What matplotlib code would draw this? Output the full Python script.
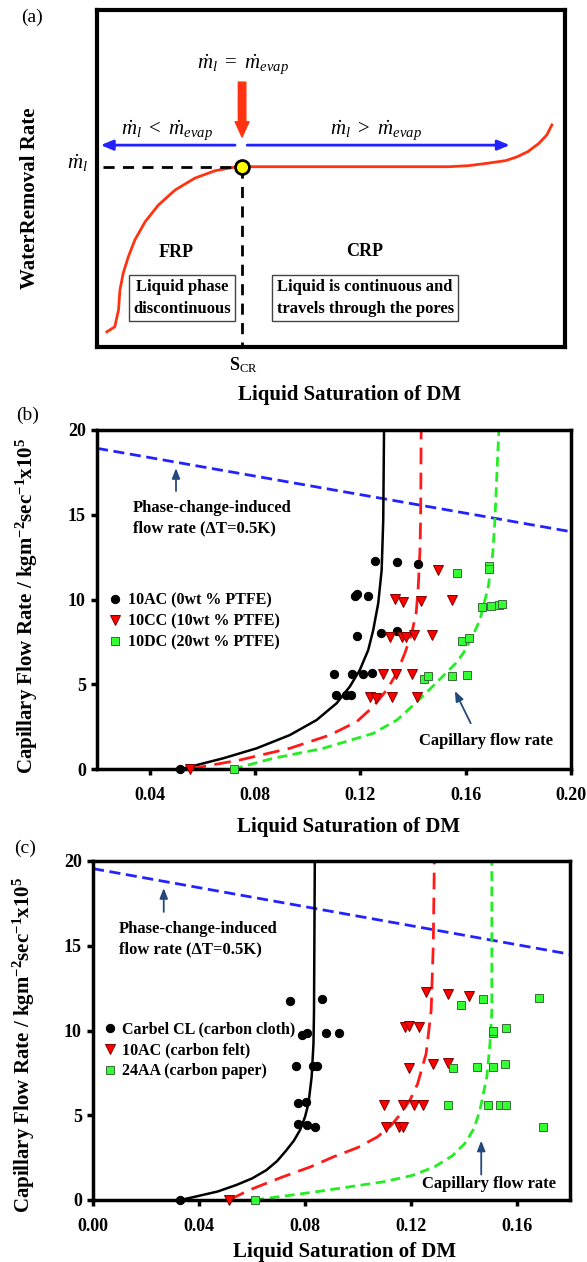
import matplotlib
matplotlib.use('Agg')
import matplotlib.pyplot as plt
from matplotlib.lines import Line2D

plt.rcParams['font.family'] = ['Liberation Serif', 'DejaVu Serif']
plt.rcParams['mathtext.fontset'] = 'custom'
plt.rcParams['mathtext.rm'] = 'Liberation Serif'
plt.rcParams['mathtext.it'] = 'Liberation Serif:italic'
plt.rcParams['mathtext.bf'] = 'Liberation Serif:bold'

W, H = 587, 1262

# ---------------- panel (a): schematic (normalised 0-1 coordinates)
drying_x = [0.021, 0.038, 0.046, 0.049, 0.056, 0.067, 0.081, 0.103, 0.131, 0.167, 0.209,
            0.252, 0.291, 0.310, 0.752, 0.793, 0.833, 0.873, 0.897, 0.921, 0.944, 0.961, 0.972]
drying_y = [0.045, 0.060, 0.110, 0.169, 0.219, 0.268, 0.318, 0.372, 0.421, 0.466, 0.501,
            0.523, 0.533, 0.535, 0.535, 0.538, 0.545, 0.553, 0.564, 0.580, 0.604, 0.629, 0.659]
crit_x = 0.310
crit_y = 0.535

# ---------------- panel (b): PTFE loading
sat_b_xlim = (0.02, 0.20)
b_ticks = [0.04, 0.08, 0.12, 0.16, 0.20]
ac_x = [0.0514, 0.1255, 0.1338, 0.142, 0.1179, 0.1189, 0.123, 0.1189, 0.128, 0.1338,
        0.110, 0.117, 0.1211, 0.1246, 0.1107, 0.1147, 0.1166]
ac_y = [0, 12.27, 12.19, 12.09, 10.2, 10.32, 10.2, 7.85, 8.04, 8.14,
        5.58, 5.58, 5.58, 5.64, 4.37, 4.37, 4.37]
cc_x = [0.0554, 0.1494, 0.1331, 0.1363, 0.1429, 0.1547, 0.1312, 0.1359, 0.1372, 0.1403,
        0.1471, 0.1287, 0.1335, 0.1398, 0.1236, 0.1259, 0.1319, 0.1414]
cc_y = [0, 11.74, 10.03, 9.83, 9.93, 9.97, 7.8, 7.77, 7.8, 7.9,
        7.9, 5.6, 5.6, 5.6, 4.23, 4.17, 4.23, 4.23]
dc_x = [0.0721, 0.1566, 0.169, 0.169, 0.1663, 0.1698, 0.1728, 0.1737, 0.1587, 0.1613,
        0.1441, 0.1457, 0.1549, 0.1606]
dc_y = [0, 11.55, 12.0, 11.8, 9.58, 9.62, 9.68, 9.73, 7.57, 7.75,
        5.31, 5.49, 5.49, 5.53]
fit_ac_x = [0.052, 0.0679, 0.0806, 0.0932, 0.1034, 0.111, 0.116, 0.1198, 0.123, 0.1249,
            0.1268, 0.1281, 0.1287, 0.129]
fit_ac_y = [0, 0.63, 1.22, 2.0, 2.89, 3.88, 4.86, 5.84, 7.02, 8.2, 9.78, 11.74, 14.7, 20]
fit_cc_x = [0.0552, 0.0742, 0.0932, 0.1084, 0.1186, 0.1249, 0.13, 0.1338, 0.1369, 0.1395,
            0.1412, 0.142, 0.1426, 0.1429, 0.1431]
fit_cc_y = [0, 0.53, 1.22, 2.0, 2.79, 3.68, 4.66, 5.65, 6.83, 8.0, 9.2, 10.76, 12.73, 14.7, 20]
fit_dc_x = [0.0717, 0.0869, 0.1059, 0.1249, 0.134, 0.1414, 0.147, 0.1515, 0.156, 0.1591,
            0.1625, 0.1654, 0.1686, 0.1703, 0.1711, 0.1726]
fit_dc_y = [0, 0.63, 1.22, 2.1, 2.9, 3.95, 4.8, 5.5, 6.2, 6.83,
            7.8, 8.79, 10.76, 12.73, 14.7, 20]
phase_b_x = [0.02, 0.20]
phase_b_y = [18.92, 14.0]

# ---------------- panel (c): DM type
sat_c_xlim = (0.0, 0.18)
c_ticks = [0.00, 0.04, 0.08, 0.12, 0.16]
cl_x = [0.033, 0.0742, 0.0865, 0.079, 0.0809, 0.0879, 0.093, 0.0766, 0.0832, 0.0845,
        0.0775, 0.0804, 0.0772, 0.0806, 0.0836]
cl_y = [0, 11.73, 11.83, 9.76, 9.84, 9.84, 9.88, 7.88, 7.88, 7.88,
        5.72, 5.78, 4.47, 4.41, 4.31]
felt_x = [0.0513, 0.1255, 0.1338, 0.1418, 0.1178, 0.1194, 0.1232, 0.1194, 0.1283, 0.134,
          0.1098, 0.1168, 0.1213, 0.1247, 0.1107, 0.1153, 0.1168]
felt_y = [0, 12.28, 12.18, 12.05, 10.2, 10.29, 10.2, 7.8, 8.0, 8.1,
          5.59, 5.59, 5.59, 5.59, 4.31, 4.31, 4.31]
paper_x = [0.061, 0.139, 0.1472, 0.1684, 0.1511, 0.1511, 0.1558, 0.1359, 0.145, 0.1511,
           0.1553, 0.134, 0.1492, 0.1536, 0.1558, 0.1698]
paper_y = [0, 11.5, 11.83, 11.89, 9.84, 10.0, 10.16, 7.8, 7.84, 7.84,
           8.04, 5.59, 5.63, 5.59, 5.63, 4.31]
fit_cl_x = [0.033, 0.0387, 0.047, 0.054, 0.060, 0.0654, 0.0695, 0.073, 0.0758, 0.0781,
            0.0800, 0.0813, 0.0825, 0.0832, 0.0834, 0.0837]
fit_cl_y = [0, 0.2, 0.5, 0.88, 1.27, 1.76, 2.3, 2.94, 3.5, 4.12, 4.9, 5.69, 7.25, 9.22, 11.18, 20]
fit_felt_x = [0.0513, 0.059, 0.0717, 0.082, 0.0908, 0.1, 0.1073, 0.1125, 0.1162, 0.1198,
              0.1225, 0.1257, 0.1276, 0.1284, 0.1288]
fit_felt_y = [0, 0.59, 1.37, 1.95, 2.55, 3.1, 3.72, 4.4, 5.1, 5.95, 6.86, 8.63, 11.18, 15.0, 20]
fit_paper_x = [0.061, 0.0844, 0.1098, 0.1205, 0.1289, 0.1355, 0.1403, 0.1437, 0.146, 0.1486,
               0.1498, 0.1505, 0.1505]
fit_paper_y = [0, 0.49, 1.08, 1.45, 1.96, 2.6, 3.33, 4.2, 5.29, 7.25, 9.22, 11.18, 20]
phase_c_x = [0.0, 0.18]
phase_c_y = [19.55, 14.5]

y_ticks = [0, 5, 10, 15, 20]

RED = '#FF1A1A'
GREEN = '#22EE22'
BLUE = '#2222FF'
NAVY = '#24497A'


def px_axes(l, t, r, b):
    return [l / W, 1 - b / H, (r - l) / W, (b - t) / H]


def ftext(x, y, s, **kw):
    fig.text(x / W, 1 - y / H, s, ha=kw.pop('ha', 'center'), va=kw.pop('va', 'center'), **kw)


fig = plt.figure(figsize=(W / 100, H / 100), dpi=100)

# ================= (a)
axa = fig.add_axes(px_axes(97, 10, 565, 347))
axa.set_xlim(0, 1)
axa.set_ylim(0, 1)
axa.set_xticks([])
axa.set_yticks([])
for s in axa.spines.values():
    s.set_linewidth(3)
axa.plot(drying_x, drying_y, color='#FF3311', lw=2, solid_joinstyle='round')
axa.plot([0.013, crit_x], [crit_y, crit_y], color='black', lw=2, ls=(0, (4, 3)))
axa.plot([crit_x, crit_x], [crit_y, 0], color='black', lw=2, ls=(0, (4, 3)))
axa.plot([crit_x], [crit_y], 'o', ms=10, mfc='#FFFF00', mec='black', mew=2, zorder=5)
axa.annotate('', xy=(crit_x, 0.623), xytext=(crit_x, 0.786),
             arrowprops=dict(arrowstyle='simple,head_length=0.55,head_width=0.5,tail_width=0.27',
                             color='#FF3311', mutation_scale=20, shrinkA=0, shrinkB=0))
axa.annotate('', xy=(0.008, 0.599), xytext=(0.295, 0.599),
             arrowprops=dict(arrowstyle='-|>,head_length=0.6,head_width=0.25', color=BLUE, lw=2,
                             mutation_scale=12, shrinkA=0, shrinkB=0))
axa.annotate('', xy=(0.882, 0.599), xytext=(0.321, 0.599),
             arrowprops=dict(arrowstyle='-|>,head_length=0.6,head_width=0.25', color=BLUE, lw=2,
                             mutation_scale=12, shrinkA=0, shrinkB=0))
axa.text(0.312, 0.837, r'$\dot{m}_l\ =\ \dot{m}_{evap}$', fontsize=15, ha='center', va='center')
axa.text(0.150, 0.640, r'$\dot{m}_l\ <\ \dot{m}_{evap}$', fontsize=15, ha='center', va='center')
axa.text(0.596, 0.640, r'$\dot{m}_l\ >\ \dot{m}_{evap}$', fontsize=15, ha='center', va='center')
axa.text(-0.041, 0.545, r'$\dot{m}_l$', fontsize=15, ha='center', va='center', clip_on=False)
axa.text(0.169, 0.279, 'FRP', fontsize=13, fontweight='bold', ha='center', va='center')
axa.text(0.571, 0.282, 'CRP', fontsize=13, fontweight='bold', ha='center', va='center')
axa.text(0.182, 0.145, 'Liquid phase\ndiscontinuous', fontsize=12, fontweight='bold',
         ha='center', va='center', linespacing=1.45,
         bbox=dict(boxstyle='square,pad=0.25', fc='white', ec='#444444', lw=1))
axa.text(0.573, 0.145, 'Liquid is continuous and\ntravels through the pores', fontsize=12,
         fontweight='bold', ha='center', va='center', linespacing=1.45,
         bbox=dict(boxstyle='square,pad=0.25', fc='white', ec='#444444', lw=1))
axa.text(0.312, -0.053, r'S$_{\mathrm{CR}}$', fontsize=13, fontweight='bold',
         ha='center', va='center', clip_on=False)
ftext(32, 17, '(a)', fontsize=14)
ftext(350, 395, 'Liquid Saturation of DM', fontsize=15, fontweight='bold')
ftext(30, 198, 'WaterRemoval Rate', fontsize=15, fontweight='bold', rotation=90)


def flow_panel(ax, xlim, xticks, series, fits, phase_x, phase_y,
               phase_arrow, phase_text, cap_arrow, cap_text, leg_anchor):
    ax.set_xlim(*xlim)
    ax.set_ylim(0, 20)
    for s in ax.spines.values():
        s.set_linewidth(2.5)
    ax.set_xticks(xticks)
    ax.set_xticklabels(['%.2f' % t for t in xticks])
    ax.set_yticks(y_ticks)
    ax.tick_params(direction='out', length=4, width=2.5, labelsize=13, pad=4)
    ax.tick_params(axis='x', pad=9)
    for lab in ax.get_xticklabels() + ax.get_yticklabels():
        lab.set_fontweight('bold')
    ax.plot(phase_x, phase_y, color=BLUE, lw=2, ls=(0, (4, 2)))
    fx, fy = fits[0]
    ax.plot(fx, fy, color='black', lw=1.8, solid_joinstyle='round')
    fx, fy = fits[1]
    ax.plot(fx, fy, color=RED, lw=2, ls=(0, (6, 3)))
    fx, fy = fits[2]
    ax.plot(fx, fy, color=GREEN, lw=2, ls=(0, (3.5, 2)))
    styles = [dict(marker='o', color='black', mec='black', ms=6),
              dict(marker='v', color='#FF0000', mec='#800000', ms=6.5),
              dict(marker='s', color='#33FF33', mec='#3A6A3A', ms=5.5)]
    handles = []
    for (sx, sy, lab), st in zip(series, styles):
        ax.plot(sx, sy, ls='none', mew=0.7, clip_on=False, zorder=4, **st)
        handles.append(Line2D([], [], ls='none', mew=0.7, label=lab, **st))
    ax.legend(handles=handles, loc='upper left', bbox_to_anchor=leg_anchor, frameon=False,
              prop=dict(weight='bold', size=11.5), handletextpad=0.3, labelspacing=0.3,
              handlelength=1.0, borderaxespad=0, borderpad=0)
    ax.annotate('', xy=phase_arrow[1], xytext=phase_arrow[0],
                arrowprops=dict(arrowstyle='-|>,head_length=0.5,head_width=0.2', color=NAVY,
                                lw=1.3, mutation_scale=12, shrinkA=0, shrinkB=0))
    ax.text(phase_text[0], phase_text[1], 'Phase-change-induced\nflow rate (\u0394T=0.5K)',
            fontsize=12, fontweight='bold', ha='left', va='center', linespacing=1.35)
    ax.annotate('', xy=cap_arrow[1], xytext=cap_arrow[0],
                arrowprops=dict(arrowstyle='-|>,head_length=0.5,head_width=0.2', color=NAVY,
                                lw=1.3, mutation_scale=12, shrinkA=0, shrinkB=0))
    ax.text(cap_text[0], cap_text[1], 'Capillary flow rate', fontsize=12, fontweight='bold',
            ha='center', va='center')


ylab = r'Capillary Flow Rate / kgm$^{\mathbf{-2}}$sec$^{\mathbf{-1}}$x10$^{\mathbf{5}}$'

# ================= (b)
axb = fig.add_axes(px_axes(97, 430, 571, 769))
flow_panel(axb, sat_b_xlim, b_ticks,
           [(ac_x, ac_y, '10AC (0wt % PTFE)'),
            (cc_x, cc_y, '10CC (10wt % PTFE)'),
            (dc_x, dc_y, '10DC (20wt % PTFE)')],
           [(fit_ac_x, fit_ac_y), (fit_cc_x, fit_cc_y), (fit_dc_x, fit_dc_y)],
           phase_b_x, phase_b_y,
           ((0.050, 16.4), (0.050, 17.75)), (0.0336, 14.8),
           ((0.1619, 2.7), (0.1559, 4.6)), (0.1679, 1.63),
           (0.022, 0.52))
ftext(28, 415, '(b)', fontsize=14)
ftext(349, 827, 'Liquid Saturation of DM', fontsize=15, fontweight='bold')
ftext(27, 606, ylab, fontsize=15, fontweight='bold', rotation=90)

# ================= (c)
axc = fig.add_axes(px_axes(93, 861, 570, 1200))
flow_panel(axc, sat_c_xlim, c_ticks,
           [(cl_x, cl_y, 'Carbel CL (carbon cloth)'),
            (felt_x, felt_y, '10AC (carbon felt)'),
            (paper_x, paper_y, '24AA (carbon paper)')],
           [(fit_cl_x, fit_cl_y), (fit_felt_x, fit_felt_y), (fit_paper_x, fit_paper_y)],
           phase_c_x, phase_c_y,
           ((0.0267, 17.0), (0.0267, 18.4)), (0.0099, 15.37),
           ((0.1465, 1.5), (0.1465, 3.5)), (0.1494, 0.94),
           (0.018, 0.526))
ftext(25, 848, '(c)', fontsize=14)
ftext(345, 1252, 'Liquid Saturation of DM', fontsize=15, fontweight='bold')
ftext(24, 1045, ylab, fontsize=15, fontweight='bold', rotation=90)

fig.savefig('out.png', dpi=100)
